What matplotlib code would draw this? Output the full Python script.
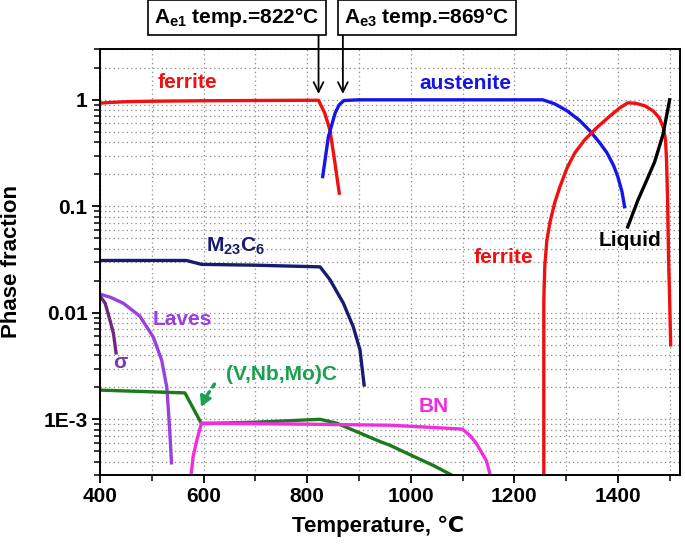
import numpy as np
import matplotlib
matplotlib.use('Agg')
import matplotlib.pyplot as plt
from matplotlib.ticker import LogLocator, FixedLocator, NullFormatter, MultipleLocator

plt.rcParams['font.family'] = ['Liberation Sans', 'DejaVu Sans']
plt.rcParams['font.weight'] = 'bold'
plt.rcParams['mathtext.fontset'] = 'custom'
plt.rcParams['mathtext.rm'] = 'Liberation Sans:bold'
plt.rcParams['mathtext.it'] = 'Liberation Sans:bold'
plt.rcParams['mathtext.bf'] = 'Liberation Sans:bold'

# phase fraction curves (temperature in C, fraction)
ferrite_lo_T = [400, 420, 450, 500, 600, 700, 800, 822, 834, 844, 852, 862]
ferrite_lo = [0.93, 0.945, 0.96, 0.97, 0.98, 0.985, 0.99, 0.99, 0.75, 0.52, 0.29, 0.133]

austenite_T = [830, 841, 854, 862, 871, 900, 1000, 1100, 1200, 1255, 1278, 1302, 1327, 1346,
               1365, 1379, 1392, 1400, 1408, 1413]
austenite = [0.19, 0.45, 0.75, 0.9, 0.985, 1.0, 1.0, 1.0, 1.0, 1.0, 0.917, 0.788, 0.635, 0.511,
             0.395, 0.318, 0.24, 0.189, 0.137, 0.099]

ferrite_hi_T = [1257, 1257, 1259, 1263, 1269, 1278, 1288, 1302, 1317, 1336, 1359, 1385, 1404, 1419,
                1435, 1452, 1468, 1480, 1488, 1492, 1494, 1496, 1498, 1500, 1502]
ferrite_hi = [2.5e-4, 0.0132, 0.0281, 0.0483, 0.0713, 0.1076, 0.152, 0.23, 0.318, 0.421, 0.546, 0.707,
              0.841, 0.937, 0.927, 0.878, 0.788, 0.677, 0.546, 0.421, 0.273, 0.115, 0.0313, 0.0132, 0.005]

liquid_T = [1419, 1439, 1456, 1471, 1487, 1500]
liquid = [0.064, 0.115, 0.177, 0.261, 0.469, 1.0]

m23c6_T = [400, 567, 596, 700, 825, 844, 870, 889, 902, 910]
m23c6 = [0.031, 0.031, 0.0285, 0.028, 0.027, 0.0205, 0.0123, 0.0074, 0.0045, 0.0021]

laves_T = [400, 420, 445, 477, 503, 519, 529, 533, 536, 538]
laves = [0.015, 0.014, 0.0123, 0.0093, 0.0059, 0.0036, 0.002, 0.00105, 0.0006, 0.00039]

sigma_T = [400, 410, 419, 426, 431]
sigma = [0.0144, 0.0123, 0.0086, 0.0064, 0.0042]

vc_T = [400, 564, 596, 702, 825, 857, 900, 940, 960, 1005, 1043, 1079]
vc = [0.00188, 0.00177, 0.00091, 0.00094, 0.001, 0.00092, 0.00075, 0.00062, 0.00057, 0.00045, 0.00037, 0.0003]

bn_T = [574, 580, 587, 596, 700, 800, 960, 1100, 1115, 1127, 1146, 1158]
bn = [2.5e-4, 0.00045, 0.00064, 0.00092, 0.00091, 0.0009, 0.00088, 0.00081, 0.0007, 0.00059, 0.00041, 2.5e-4]

ae1 = 822
ae3 = 869

fig = plt.figure(figsize=(6.85, 5.47), dpi=100)
ax = fig.add_axes([100/685, 72/547, 580/685, 426/547])

lw = 2.4
ax.plot(ferrite_lo_T, ferrite_lo, color='#f01010', lw=lw)
ax.plot(austenite_T, austenite, color='#1515e8', lw=lw)
ax.plot(ferrite_hi_T, ferrite_hi, color='#f01010', lw=lw)
ax.plot(liquid_T, liquid, color='black', lw=lw)
ax.plot(m23c6_T, m23c6, color='#1a1a70', lw=lw)
ax.plot(laves_T, laves, color='#9a3fe0', lw=lw)
ax.plot(sigma_T, sigma, color='#6e2a7e', lw=lw)
ax.plot(vc_T, vc, color='#1b7a1b', lw=lw)
ax.plot(bn_T, bn, color='#f02ee0', lw=lw)

ax.set_xlim(400, 1520)
ax.set_yscale('log')
ax.set_ylim(3e-4, 3)

ax.xaxis.set_major_locator(FixedLocator([400, 600, 800, 1000, 1200, 1400]))
ax.xaxis.set_minor_locator(MultipleLocator(100))
ax.yaxis.set_major_locator(FixedLocator([1e-3, 0.01, 0.1, 1]))
ax.set_yticklabels(['1E-3', '0.01', '0.1', '1'])
ax.yaxis.set_minor_locator(LogLocator(base=10, subs=np.arange(2, 10)))
ax.yaxis.set_minor_formatter(NullFormatter())

ax.grid(True, which='both', color='#8a8a8a', lw=0.9, linestyle=(0, (1, 2.5)))
ax.tick_params(which='major', direction='out', length=6, width=1.3, labelsize=15, pad=3)
ax.tick_params(which='minor', direction='out', length=4, width=1.1)
for s in ax.spines.values():
    s.set_linewidth(1.4)

ax.set_xlabel('Temperature, ℃', fontsize=16, fontweight='bold')
ax.xaxis.set_label_coords(0.48, -0.095)
ax.set_ylabel('Phase fraction', fontsize=16, fontweight='bold')
ax.yaxis.set_label_coords(-0.135, 0.5)

# phase labels
fs = 15
ax.text(568, 1.44, 'ferrite', color='#f01010', fontsize=fs, ha='center', va='center', fontweight='bold')
ax.text(1105, 1.41, 'austenite', color='#1515e8', fontsize=fs, ha='center', va='center', fontweight='bold')
ax.text(1180, 0.0334, 'ferrite', color='#f01010', fontsize=fs, ha='center', va='center', fontweight='bold')
ax.text(1423, 0.0473, 'Liquid', color='black', fontsize=fs, ha='center', va='center', fontweight='bold')
ax.text(661, 0.0425, r'M$_{23}$C$_6$', color='#1a1a70', fontsize=fs, ha='center', va='center', fontweight='bold')
ax.text(558, 0.0086, 'Laves', color='#9a3fe0', fontsize=fs, ha='center', va='center', fontweight='bold')
ax.text(439, 0.0034, 'σ', color='#7a3aa8', fontsize=fs, ha='center', va='center', fontweight='bold')
ax.text(751, 0.00266, '(V,Nb,Mo)C', color='#19a050', fontsize=fs, ha='center', va='center', fontweight='bold')
ax.text(1045, 0.00133, 'BN', color='#f02ee0', fontsize=fs, ha='center', va='center', fontweight='bold')

# dotted green arrow to the carbide kink
ax.annotate('', xy=(598, 0.00145), xytext=(624, 0.00225),
            arrowprops=dict(arrowstyle='-', color='#19a050', lw=2.5, linestyle=':'))
ax.annotate('', xy=(593, 0.00125), xytext=(600, 0.00148),
            arrowprops=dict(arrowstyle='-|>,head_length=0.6,head_width=0.35', color='#19a050', lw=2))

# Ae1 / Ae3 boxes and arrows
box = dict(boxstyle='square,pad=0.3', fc='white', ec='black', lw=1.2)
fig.text(237/685, 1 - 17.5/547, r'A$_{e1}$ temp.=822°C', fontsize=15, fontweight='bold',
         ha='center', va='center', bbox=box)
fig.text(427/685, 1 - 17.5/547, r'A$_{e3}$ temp.=869°C', fontsize=15, fontweight='bold',
         ha='center', va='center', bbox=box)
for t in (ae1, ae3):
    ax.annotate('', xy=(t, 1.07), xytext=(t, 4.3), annotation_clip=False,
                arrowprops=dict(arrowstyle='->,head_length=0.7,head_width=0.35', color='black', lw=1.3))

fig.savefig('out.png', dpi=100)
